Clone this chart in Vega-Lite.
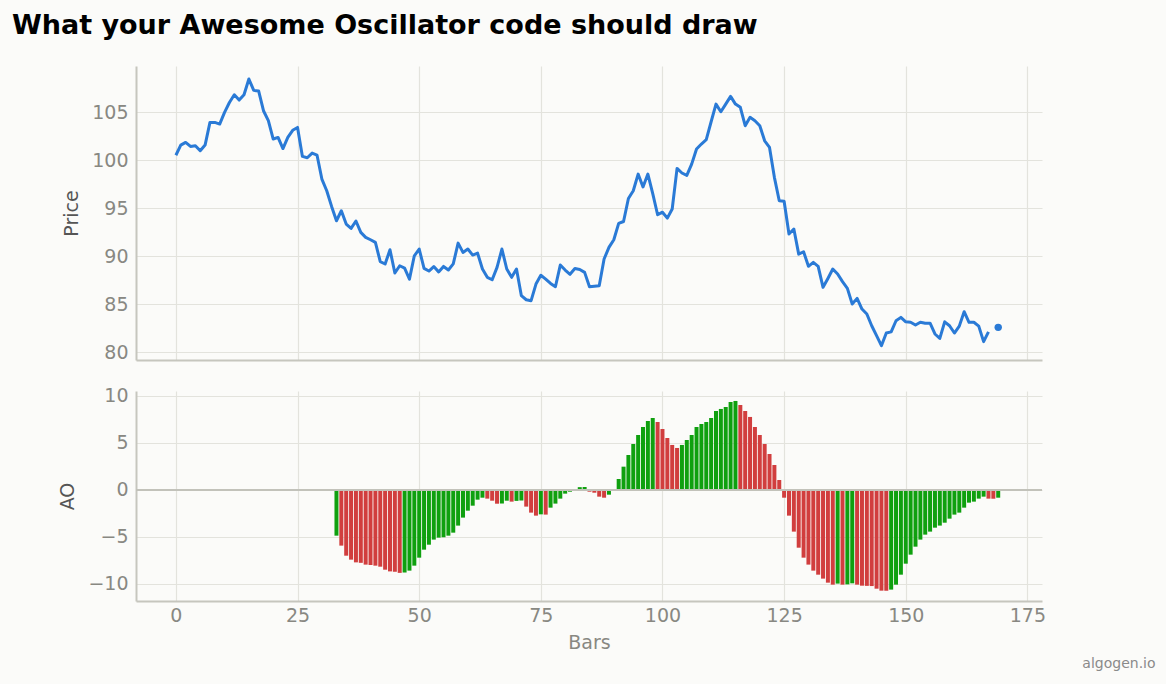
{
  "$schema": "https://vega.github.io/schema/vega-lite/v6.json",
  "description": "Awesome Oscillator: price line and AO histogram",
  "background": "#fbfbf9",
  "padding": {"left": 11, "top": 12, "right": 13, "bottom": 13},
  "title": {
    "text": "What your Awesome Oscillator code should draw",
    "anchor": "start",
    "font": "DejaVu Sans",
    "fontSize": 27,
    "fontWeight": "bold",
    "color": "#000000",
    "dx": -47,
    "offset": 26
  },
  "datasets": {
    "price": [
      {"bar": 0, "price": 100.5}, {"bar": 1, "price": 101.56}, {"bar": 2, "price": 101.84}, {"bar": 3, "price": 101.42},
      {"bar": 4, "price": 101.5}, {"bar": 5, "price": 100.97}, {"bar": 6, "price": 101.56}, {"bar": 7, "price": 103.92},
      {"bar": 8, "price": 103.92}, {"bar": 9, "price": 103.75}, {"bar": 10, "price": 104.97}, {"bar": 11, "price": 106.0},
      {"bar": 12, "price": 106.8}, {"bar": 13, "price": 106.25}, {"bar": 14, "price": 106.8}, {"bar": 15, "price": 108.44},
      {"bar": 16, "price": 107.26}, {"bar": 17, "price": 107.2}, {"bar": 18, "price": 105.14}, {"bar": 19, "price": 104.1},
      {"bar": 20, "price": 102.19}, {"bar": 21, "price": 102.36}, {"bar": 22, "price": 101.2}, {"bar": 23, "price": 102.36},
      {"bar": 24, "price": 103.1}, {"bar": 25, "price": 103.4}, {"bar": 26, "price": 100.38}, {"bar": 27, "price": 100.24},
      {"bar": 28, "price": 100.73}, {"bar": 29, "price": 100.52}, {"bar": 30, "price": 98.02}, {"bar": 31, "price": 96.8},
      {"bar": 32, "price": 95.17}, {"bar": 33, "price": 93.68}, {"bar": 34, "price": 94.72}, {"bar": 35, "price": 93.33},
      {"bar": 36, "price": 92.88}, {"bar": 37, "price": 93.65}, {"bar": 38, "price": 92.47}, {"bar": 39, "price": 91.95},
      {"bar": 40, "price": 91.7}, {"bar": 41, "price": 91.43}, {"bar": 42, "price": 89.41}, {"bar": 43, "price": 89.17},
      {"bar": 44, "price": 90.66}, {"bar": 45, "price": 88.23}, {"bar": 46, "price": 88.99}, {"bar": 47, "price": 88.75},
      {"bar": 48, "price": 87.6}, {"bar": 49, "price": 90.03}, {"bar": 50, "price": 90.73}, {"bar": 51, "price": 88.72},
      {"bar": 52, "price": 88.44}, {"bar": 53, "price": 88.9}, {"bar": 54, "price": 88.35}, {"bar": 55, "price": 88.92},
      {"bar": 56, "price": 88.55}, {"bar": 57, "price": 89.18}, {"bar": 58, "price": 91.35}, {"bar": 59, "price": 90.38},
      {"bar": 60, "price": 90.73}, {"bar": 61, "price": 90.1}, {"bar": 62, "price": 90.3}, {"bar": 63, "price": 88.65},
      {"bar": 64, "price": 87.78}, {"bar": 65, "price": 87.53}, {"bar": 66, "price": 88.82}, {"bar": 67, "price": 90.73},
      {"bar": 68, "price": 88.65}, {"bar": 69, "price": 87.78}, {"bar": 70, "price": 88.65}, {"bar": 71, "price": 85.87},
      {"bar": 72, "price": 85.45}, {"bar": 73, "price": 85.35}, {"bar": 74, "price": 87.08}, {"bar": 75, "price": 88.0},
      {"bar": 76, "price": 87.6}, {"bar": 77, "price": 87.15}, {"bar": 78, "price": 86.8}, {"bar": 79, "price": 89.06},
      {"bar": 80, "price": 88.54}, {"bar": 81, "price": 88.1}, {"bar": 82, "price": 88.7}, {"bar": 83, "price": 88.6},
      {"bar": 84, "price": 88.3}, {"bar": 85, "price": 86.8}, {"bar": 86, "price": 86.85}, {"bar": 87, "price": 86.9},
      {"bar": 88, "price": 89.69}, {"bar": 89, "price": 90.9}, {"bar": 90, "price": 91.7}, {"bar": 91, "price": 93.4},
      {"bar": 92, "price": 93.6}, {"bar": 93, "price": 96.0}, {"bar": 94, "price": 96.8}, {"bar": 95, "price": 98.54},
      {"bar": 96, "price": 97.2}, {"bar": 97, "price": 98.54}, {"bar": 98, "price": 96.5}, {"bar": 99, "price": 94.3},
      {"bar": 100, "price": 94.57}, {"bar": 101, "price": 93.95}, {"bar": 102, "price": 94.9}, {"bar": 103, "price": 99.13},
      {"bar": 104, "price": 98.65}, {"bar": 105, "price": 98.4}, {"bar": 106, "price": 99.58}, {"bar": 107, "price": 101.15},
      {"bar": 108, "price": 101.67}, {"bar": 109, "price": 102.12}, {"bar": 110, "price": 103.99}, {"bar": 111, "price": 105.83},
      {"bar": 112, "price": 105.03}, {"bar": 113, "price": 105.83}, {"bar": 114, "price": 106.63}, {"bar": 115, "price": 105.83},
      {"bar": 116, "price": 105.49}, {"bar": 117, "price": 103.58}, {"bar": 118, "price": 104.45}, {"bar": 119, "price": 104.1},
      {"bar": 120, "price": 103.58}, {"bar": 121, "price": 102.01}, {"bar": 122, "price": 101.32}, {"bar": 123, "price": 98.2},
      {"bar": 124, "price": 95.76}, {"bar": 125, "price": 95.7}, {"bar": 126, "price": 92.29}, {"bar": 127, "price": 92.81},
      {"bar": 128, "price": 90.2}, {"bar": 129, "price": 90.45}, {"bar": 130, "price": 88.93}, {"bar": 131, "price": 89.34},
      {"bar": 132, "price": 88.93}, {"bar": 133, "price": 86.74}, {"bar": 134, "price": 87.67}, {"bar": 135, "price": 88.65},
      {"bar": 136, "price": 88.13}, {"bar": 137, "price": 87.33}, {"bar": 138, "price": 86.63}, {"bar": 139, "price": 85.0},
      {"bar": 140, "price": 85.59}, {"bar": 141, "price": 84.48}, {"bar": 142, "price": 83.96}, {"bar": 143, "price": 82.74},
      {"bar": 144, "price": 81.7}, {"bar": 145, "price": 80.66}, {"bar": 146, "price": 81.98}, {"bar": 147, "price": 82.1},
      {"bar": 148, "price": 83.26}, {"bar": 149, "price": 83.61}, {"bar": 150, "price": 83.15}, {"bar": 151, "price": 83.1},
      {"bar": 152, "price": 82.81}, {"bar": 153, "price": 83.1}, {"bar": 154, "price": 83.0}, {"bar": 155, "price": 83.0},
      {"bar": 156, "price": 81.88}, {"bar": 157, "price": 81.42}, {"bar": 158, "price": 83.15}, {"bar": 159, "price": 82.74},
      {"bar": 160, "price": 81.98}, {"bar": 161, "price": 82.7}, {"bar": 162, "price": 84.2}, {"bar": 163, "price": 83.1},
      {"bar": 164, "price": 83.1}, {"bar": 165, "price": 82.7}, {"bar": 166, "price": 81.08}, {"bar": 167, "price": 82.1},
      {"bar": 168, "price": null}, {"bar": 169, "price": 82.57}
    ],
    "ao": [
      {"bar": 33, "ao": -4.86, "dir": "up"}, {"bar": 34, "ao": -5.92, "dir": "down"}, {"bar": 35, "ao": -6.99, "dir": "down"},
      {"bar": 36, "ao": -7.41, "dir": "down"}, {"bar": 37, "ao": -7.7, "dir": "down"}, {"bar": 38, "ao": -7.75, "dir": "down"},
      {"bar": 39, "ao": -7.94, "dir": "down"}, {"bar": 40, "ao": -7.98, "dir": "down"}, {"bar": 41, "ao": -8.05, "dir": "down"},
      {"bar": 42, "ao": -8.16, "dir": "down"}, {"bar": 43, "ao": -8.48, "dir": "down"}, {"bar": 44, "ao": -8.66, "dir": "down"},
      {"bar": 45, "ao": -8.7, "dir": "down"}, {"bar": 46, "ao": -8.82, "dir": "down"}, {"bar": 47, "ao": -8.78, "dir": "up"},
      {"bar": 48, "ao": -8.58, "dir": "up"}, {"bar": 49, "ao": -8.05, "dir": "up"}, {"bar": 50, "ao": -7.2, "dir": "up"},
      {"bar": 51, "ao": -6.35, "dir": "up"}, {"bar": 52, "ao": -5.82, "dir": "up"}, {"bar": 53, "ao": -5.28, "dir": "up"},
      {"bar": 54, "ao": -5.07, "dir": "up"}, {"bar": 55, "ao": -5.03, "dir": "up"}, {"bar": 56, "ao": -4.86, "dir": "up"},
      {"bar": 57, "ao": -4.54, "dir": "up"}, {"bar": 58, "ao": -3.79, "dir": "up"}, {"bar": 59, "ao": -2.94, "dir": "up"},
      {"bar": 60, "ao": -2.2, "dir": "up"}, {"bar": 61, "ao": -1.67, "dir": "up"}, {"bar": 62, "ao": -1.03, "dir": "up"},
      {"bar": 63, "ao": -0.82, "dir": "up"}, {"bar": 64, "ao": -0.92, "dir": "down"}, {"bar": 65, "ao": -1.14, "dir": "down"},
      {"bar": 66, "ao": -1.46, "dir": "down"}, {"bar": 67, "ao": -1.44, "dir": "up"}, {"bar": 68, "ao": -1.14, "dir": "up"},
      {"bar": 69, "ao": -1.24, "dir": "down"}, {"bar": 70, "ao": -1.16, "dir": "up"}, {"bar": 71, "ao": -1.12, "dir": "up"},
      {"bar": 72, "ao": -1.77, "dir": "down"}, {"bar": 73, "ao": -2.41, "dir": "down"}, {"bar": 74, "ao": -2.73, "dir": "down"},
      {"bar": 75, "ao": -2.59, "dir": "up"}, {"bar": 76, "ao": -2.62, "dir": "down"}, {"bar": 77, "ao": -1.88, "dir": "up"},
      {"bar": 78, "ao": -1.45, "dir": "up"}, {"bar": 79, "ao": -0.92, "dir": "up"}, {"bar": 80, "ao": -0.39, "dir": "up"},
      {"bar": 81, "ao": -0.18, "dir": "up"}, {"bar": 82, "ao": -0.08, "dir": "up"}, {"bar": 83, "ao": 0.3, "dir": "up"},
      {"bar": 84, "ao": 0.32, "dir": "up"}, {"bar": 85, "ao": -0.18, "dir": "down"}, {"bar": 86, "ao": -0.29, "dir": "down"},
      {"bar": 87, "ao": -0.71, "dir": "down"}, {"bar": 88, "ao": -0.82, "dir": "down"}, {"bar": 89, "ao": -0.5, "dir": "up"},
      {"bar": 90, "ao": 0.05, "dir": "up"}, {"bar": 91, "ao": 1.17, "dir": "up"}, {"bar": 92, "ao": 2.48, "dir": "up"},
      {"bar": 93, "ao": 3.72, "dir": "up"}, {"bar": 94, "ao": 4.89, "dir": "up"}, {"bar": 95, "ao": 5.85, "dir": "up"},
      {"bar": 96, "ao": 6.7, "dir": "up"}, {"bar": 97, "ao": 7.34, "dir": "up"}, {"bar": 98, "ao": 7.66, "dir": "up"},
      {"bar": 99, "ao": 7.23, "dir": "down"}, {"bar": 100, "ao": 6.49, "dir": "down"}, {"bar": 101, "ao": 5.53, "dir": "down"},
      {"bar": 102, "ao": 4.79, "dir": "down"}, {"bar": 103, "ao": 4.47, "dir": "down"}, {"bar": 104, "ao": 4.79, "dir": "up"},
      {"bar": 105, "ao": 5.32, "dir": "up"}, {"bar": 106, "ao": 5.85, "dir": "up"}, {"bar": 107, "ao": 6.7, "dir": "up"},
      {"bar": 108, "ao": 7.02, "dir": "up"}, {"bar": 109, "ao": 7.23, "dir": "up"}, {"bar": 110, "ao": 7.66, "dir": "up"},
      {"bar": 111, "ao": 8.4, "dir": "up"}, {"bar": 112, "ao": 8.62, "dir": "up"}, {"bar": 113, "ao": 8.83, "dir": "up"},
      {"bar": 114, "ao": 9.36, "dir": "up"}, {"bar": 115, "ao": 9.47, "dir": "up"}, {"bar": 116, "ao": 9.04, "dir": "down"},
      {"bar": 117, "ao": 8.4, "dir": "down"}, {"bar": 118, "ao": 7.77, "dir": "down"}, {"bar": 119, "ao": 6.7, "dir": "down"},
      {"bar": 120, "ao": 5.85, "dir": "down"}, {"bar": 121, "ao": 4.89, "dir": "down"}, {"bar": 122, "ao": 3.83, "dir": "down"},
      {"bar": 123, "ao": 2.66, "dir": "down"}, {"bar": 124, "ao": 1.06, "dir": "down"}, {"bar": 125, "ao": -0.82, "dir": "down"},
      {"bar": 126, "ao": -2.73, "dir": "down"}, {"bar": 127, "ao": -4.43, "dir": "down"}, {"bar": 128, "ao": -6.14, "dir": "down"},
      {"bar": 129, "ao": -7.2, "dir": "down"}, {"bar": 130, "ao": -7.94, "dir": "down"}, {"bar": 131, "ao": -8.58, "dir": "down"},
      {"bar": 132, "ao": -9.01, "dir": "down"}, {"bar": 133, "ao": -9.43, "dir": "down"}, {"bar": 134, "ao": -9.86, "dir": "down"},
      {"bar": 135, "ao": -10.07, "dir": "down"}, {"bar": 136, "ao": -9.96, "dir": "up"}, {"bar": 137, "ao": -10.07, "dir": "down"},
      {"bar": 138, "ao": -10.04, "dir": "up"}, {"bar": 139, "ao": -9.93, "dir": "up"}, {"bar": 140, "ao": -10.07, "dir": "down"},
      {"bar": 141, "ao": -10.18, "dir": "down"}, {"bar": 142, "ao": -10.2, "dir": "down"}, {"bar": 143, "ao": -10.22, "dir": "down"},
      {"bar": 144, "ao": -10.5, "dir": "down"}, {"bar": 145, "ao": -10.71, "dir": "down"}, {"bar": 146, "ao": -10.72, "dir": "down"},
      {"bar": 147, "ao": -10.6, "dir": "up"}, {"bar": 148, "ao": -10.07, "dir": "up"}, {"bar": 149, "ao": -9.01, "dir": "up"},
      {"bar": 150, "ao": -7.84, "dir": "up"}, {"bar": 151, "ao": -6.88, "dir": "up"}, {"bar": 152, "ao": -6.03, "dir": "up"},
      {"bar": 153, "ao": -5.28, "dir": "up"}, {"bar": 154, "ao": -4.75, "dir": "up"}, {"bar": 155, "ao": -4.43, "dir": "up"},
      {"bar": 156, "ao": -4.01, "dir": "up"}, {"bar": 157, "ao": -3.79, "dir": "up"}, {"bar": 158, "ao": -3.48, "dir": "up"},
      {"bar": 159, "ao": -3.05, "dir": "up"}, {"bar": 160, "ao": -2.62, "dir": "up"}, {"bar": 161, "ao": -2.41, "dir": "up"},
      {"bar": 162, "ao": -1.88, "dir": "up"}, {"bar": 163, "ao": -1.35, "dir": "up"}, {"bar": 164, "ao": -1.24, "dir": "up"},
      {"bar": 165, "ao": -0.92, "dir": "up"}, {"bar": 166, "ao": -0.71, "dir": "up"}, {"bar": 167, "ao": -0.92, "dir": "down"},
      {"bar": 168, "ao": -0.93, "dir": "down"}, {"bar": 169, "ao": -0.82, "dir": "up"}
    ]
  },
  "spacing": 23,
  "vconcat": [
    {
      "width": 906,
      "height": 294,
      "data": {"name": "price"},
      "encoding": {
        "x": {
          "field": "bar", "type": "quantitative",
          "scale": {"domain": [-8.2, 178], "nice": false, "zero": false},
          "axis": {"values": [0, 25, 50, 75, 100, 125, 150, 175], "labels": false, "title": null}
        },
        "y": {
          "field": "price", "type": "quantitative",
          "scale": {"domain": [79.17, 109.8], "nice": false, "zero": false},
          "axis": {"values": [80, 85, 90, 95, 100, 105], "title": "Price"}
        }
      },
      "layer": [
        {"mark": {"type": "line", "color": "#2a7ad6", "strokeWidth": 3, "strokeJoin": "round"}},
        {
          "transform": [{"filter": "datum.bar == 169"}],
          "mark": {"type": "circle", "color": "#2a7ad6", "size": 55, "opacity": 1}
        }
      ]
    },
    {
      "width": 906,
      "height": 210,
      "title": {
        "text": "algogen.io",
        "orient": "bottom",
        "anchor": "end",
        "font": "DejaVu Sans",
        "fontSize": 14,
        "fontWeight": "normal",
        "color": "#8a8a8a",
        "dx": 110,
        "offset": 5
      },
      "layer": [
        {
          "data": {"name": "ao"},
          "mark": {"type": "bar", "width": 4},
          "encoding": {
            "x": {
              "field": "bar", "type": "quantitative",
              "scale": {"domain": [-8.2, 178], "nice": false, "zero": false, "padding": 0},
              "axis": {"values": [0, 25, 50, 75, 100, 125, 150, 175], "title": "Bars", "titleColor": "#888882", "labelPadding": 5, "titlePadding": 8}
            },
            "y": {
              "field": "ao", "type": "quantitative",
              "scale": {"domain": [-11.81, 10.53], "nice": false, "zero": false},
              "axis": {"values": [-10, -5, 0, 5, 10], "title": "AO"}
            },
            "color": {
              "field": "dir", "type": "nominal",
              "scale": {"domain": ["up", "down"], "range": ["#0fa00f", "#d13e3e"]},
              "legend": null
            }
          }
        },
        {
          "data": {"values": [{"level": 0}]},
          "mark": {"type": "rule", "color": "#c2c2ba", "strokeWidth": 2},
          "encoding": {"y": {"field": "level", "type": "quantitative"}}
        }
      ]
    }
  ],
  "config": {
    "font": "DejaVu Sans",
    "view": {"stroke": null, "fill": "#fbfbf9"},
    "axis": {
      "domainColor": "#c6c6be",
      "domainWidth": 2,
      "gridColor": "#e3e3dd",
      "gridWidth": 1.2,
      "ticks": false,
      "labelColor": "#888882",
      "labelFont": "DejaVu Sans",
      "labelFontSize": 19,
      "labelPadding": 8,
      "titleFont": "DejaVu Sans",
      "titleFontSize": 19,
      "titleFontWeight": "normal",
      "titleColor": "#555555",
      "titlePadding": 10
    },
    "axisY": {"domain": true},
    "axisX": {"domain": true}
  }
}
